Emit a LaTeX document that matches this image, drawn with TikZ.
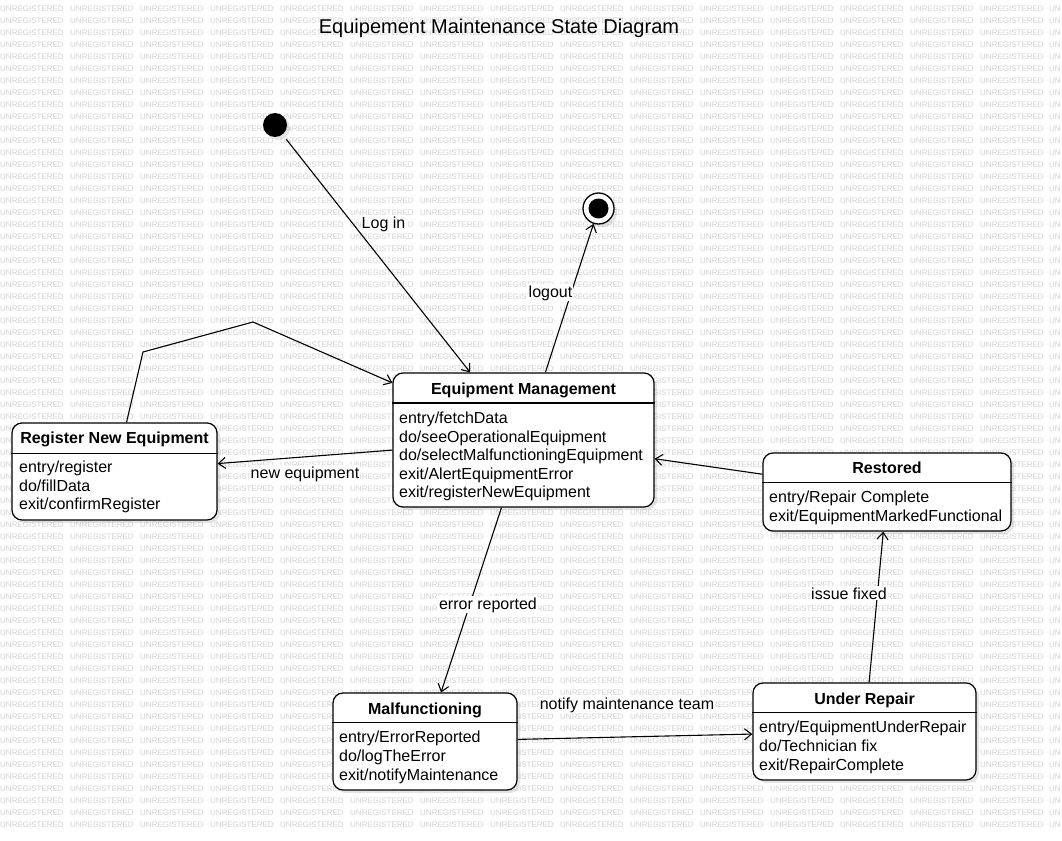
\documentclass[tikz,border=0pt]{standalone}
\usepackage{fontspec}
\setmainfont{Liberation Sans}
\usetikzlibrary{arrows.meta,shadows,calc}
\begin{document}
\begin{tikzpicture}[x=1pt,y=-1pt,
  wm/.style={anchor=base west, inner sep=0, text=gray!35, font=\fontsize{8pt}{8pt}\selectfont},
  statebox/.style={draw=black, line width=1.2pt, fill=white, rounded corners=10pt, inner sep=0,
    drop shadow={opacity=0.2, shadow xshift=3pt, shadow yshift=-3pt}},
  stitle/.style={anchor=base, inner sep=0, font=\fontsize{16pt}{18pt}\selectfont\bfseries},
  sline/.style={anchor=base west, inner sep=0, font=\fontsize{16pt}{18pt}\selectfont},
  sep/.style={line width=1.2pt},
  trans/.style={line width=1.1pt, -{Straight Barb[length=7pt,width=11pt]}},
  lbl/.style={anchor=base, fill=white, inner sep=1pt, font=\fontsize{16pt}{18pt}\selectfont},
]
\useasboundingbox (0,0) rectangle (1062,840);
\clip (0,0) rectangle (1062,840);
\fill[white] (0,0) rectangle (1062,840);

% watermark
\foreach \r in {0,...,68} {
  \foreach \c in {0,...,14} {
    \node[wm] (wm-\r-\c) at (70*\c, 11.2+12*\r) {UNREGISTERED};
  }
  \node[wm] (wm-\r-15) at (1049, 11.2+12*\r) {UN};
}

% title
\node[anchor=base, inner sep=0, font=\fontsize{20pt}{24pt}\selectfont] (title) at (499,34) {Equipement Maintenance State Diagram};

% pseudo states
\node[circle, fill=black, minimum size=24pt, inner sep=0,
  drop shadow={opacity=0.2, shadow xshift=3pt, shadow yshift=-3pt}] (init) at (275,125) {};
\node[circle, draw=black, fill=white, line width=1.3pt, minimum size=31pt, inner sep=0,
  drop shadow={opacity=0.2, shadow xshift=3pt, shadow yshift=-3pt}] (final) at (598.5,208.5) {};
\node[circle, fill=black, minimum size=20pt, inner sep=0] (finaldot) at (598.5,208.5) {};

% Equipment Management
\node[statebox, minimum width=261pt, minimum height=134pt] (em) at (523.5,440) {};
\draw[sep] ([yshift=-30.5pt]em.north west) -- ([yshift=-30.5pt]em.north east);
\node[stitle] (em-t) at (523.5,394) {Equipment Management};
\node[sline] (em-1) at (399,423.5) {entry/fetchData};
\node[sline] (em-2) at (399,442) {do/seeOperationalEquipment};
\node[sline] (em-3) at (399,460.5) {do/selectMalfunctioningEquipment};
\node[sline] (em-4) at (399,479) {exit/AlertEquipmentError};
\node[sline] (em-5) at (399,497.5) {exit/registerNewEquipment};

% Register New Equipment
\node[statebox, minimum width=205pt, minimum height=97pt] (reg) at (114.5,471.5) {};
\draw[sep] ([yshift=-31pt]reg.north west) -- ([yshift=-31pt]reg.north east);
\node[stitle] (reg-t) at (114.5,443) {Register New Equipment};
\node[sline] (reg-1) at (19,472.5) {entry/register};
\node[sline] (reg-2) at (19,491) {do/fillData};
\node[sline] (reg-3) at (19,509.5) {exit/confirmRegister};

% Restored
\node[statebox, minimum width=248pt, minimum height=78pt] (rest) at (887,492) {};
\draw[sep] ([yshift=-30pt]rest.north west) -- ([yshift=-30pt]rest.north east);
\node[stitle] (rest-t) at (887,473.5) {Restored};
\node[sline] (rest-1) at (769,502.5) {entry/Repair Complete};
\node[sline] (rest-2) at (769,521.5) {exit/EquipmentMarkedFunctional};

% Malfunctioning
\node[statebox, minimum width=184pt, minimum height=97pt] (malf) at (425,741.5) {};
\draw[sep] ([yshift=-30pt]malf.north west) -- ([yshift=-30pt]malf.north east);
\node[stitle] (malf-t) at (425,714) {Malfunctioning};
\node[sline] (malf-1) at (339,742.5) {entry/ErrorReported};
\node[sline] (malf-2) at (339,761.5) {do/logTheError};
\node[sline] (malf-3) at (339,780) {exit/notifyMaintenance};

% Under Repair
\node[statebox, minimum width=223pt, minimum height=97pt] (ur) at (864.5,731.5) {};
\draw[sep] ([yshift=-30pt]ur.north west) -- ([yshift=-30pt]ur.north east);
\node[stitle] (ur-t) at (864.5,704) {Under Repair};
\node[sline] (ur-1) at (759,732.5) {entry/EquipmentUnderRepair};
\node[sline] (ur-2) at (759,751.5) {do/Technician fix};
\node[sline] (ur-3) at (759,770.5) {exit/RepairComplete};

% transitions
\coordinate (w1) at (143,352);
\coordinate (w2) at (253,322);
\draw[trans, shorten <=6pt] (init) -- (em);
\draw[trans] (em) -- (final);
\draw[trans] ([xshift=12pt]reg.north) -- (w1) -- (w2) -- (em);
\draw[trans] (em) -- (reg);
\draw[trans] (em) -- (malf);
\draw[trans] (malf) -- (ur);
\draw[trans] (ur) -- (rest);
\draw[trans] (rest) -- (em);

% labels
\node[lbl] (l-login) at (383.5,228) {Log in};
\node[lbl] (l-logout) at (550.5,297) {logout};
\node[lbl] (l-new) at (305,478) {new equipment};
\node[lbl] (l-err) at (488,609) {error reported};
\node[lbl] (l-notify) at (627,709) {notify maintenance team};
\node[lbl] (l-fixed) at (849,599) {issue fixed};
\end{tikzpicture}
\end{document}
